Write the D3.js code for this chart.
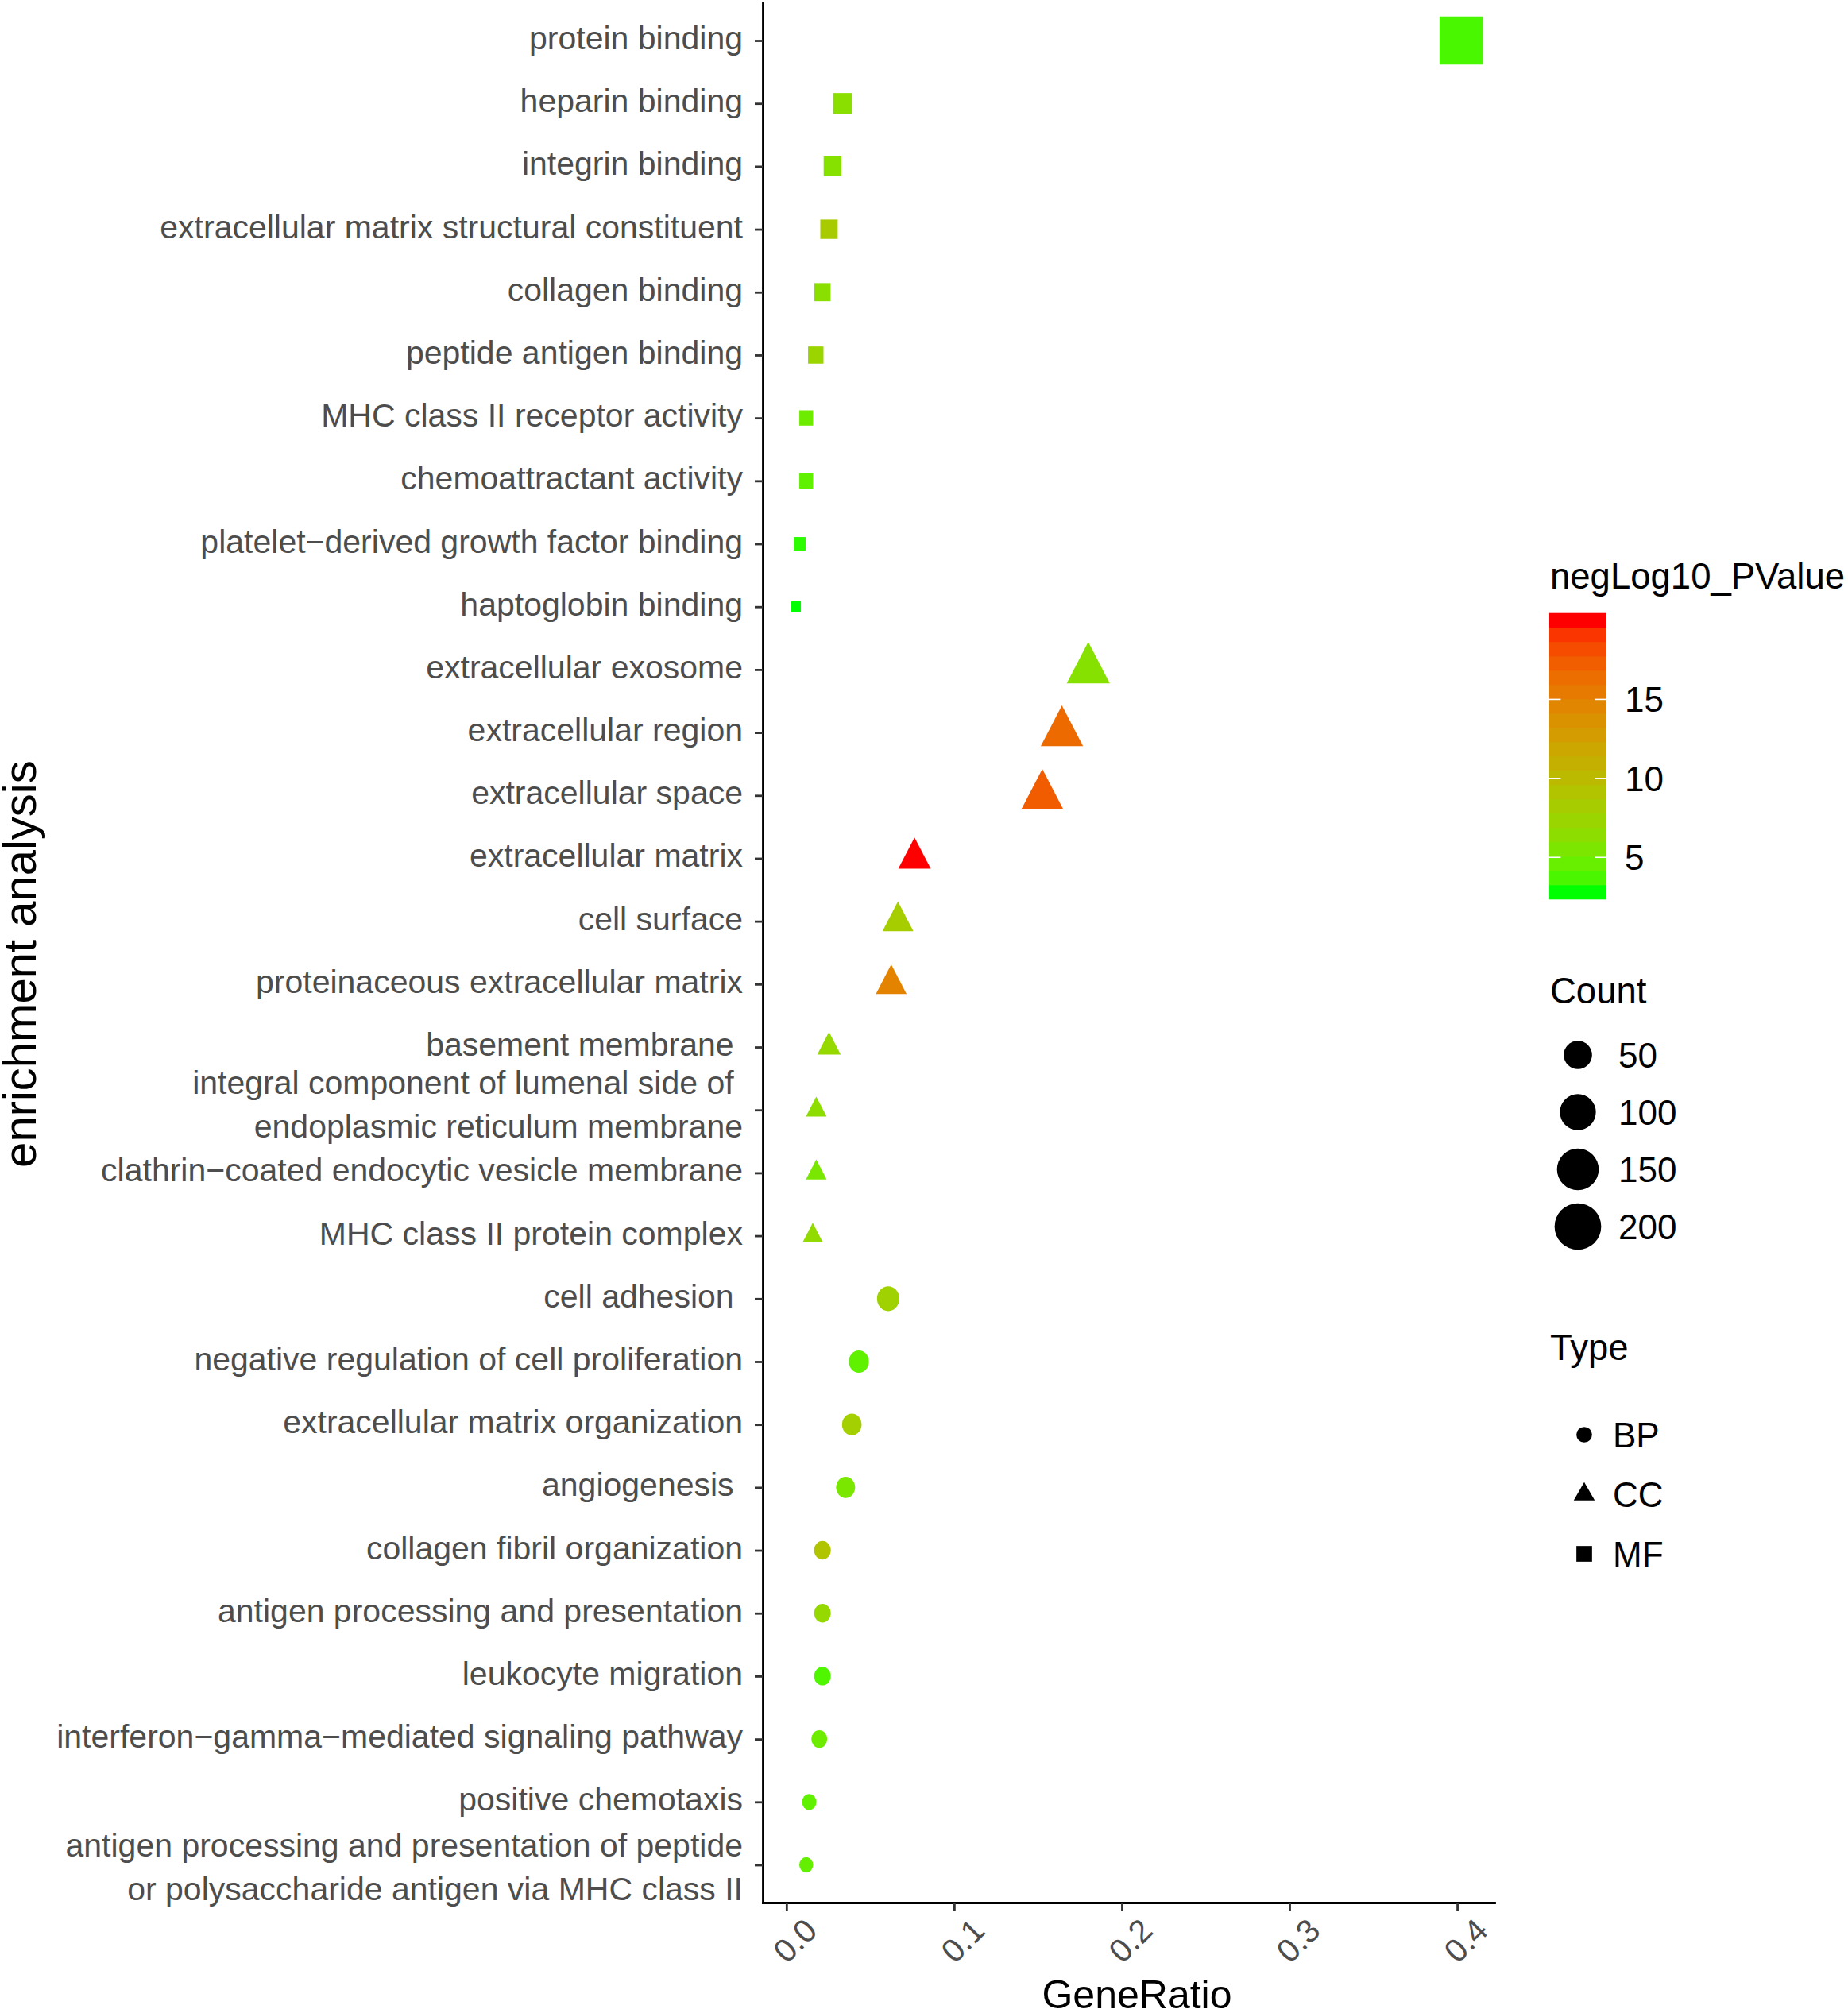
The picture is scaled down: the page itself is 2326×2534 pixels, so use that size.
<!DOCTYPE html>
<html>
<head>
<meta charset="utf-8">
<script src="https://cdn.jsdelivr.net/npm/d3@7"></script>
<style>
  body { margin: 0; background: #ffffff; }
  svg { display: block; font-family: "Liberation Sans", Arial, Helvetica, sans-serif; }
</style>
</head>
<body>
<svg id="chart" width="2326" height="2534"></svg>
<script>
// ---------------- data (top to bottom as drawn) ----------------
const terms = [
  "protein binding",
  "heparin binding",
  "integrin binding",
  "extracellular matrix structural constituent",
  "collagen binding",
  "peptide antigen binding",
  "MHC class II receptor activity",
  "chemoattractant activity",
  "platelet\u2212derived growth factor binding",
  "haptoglobin binding",
  "extracellular exosome",
  "extracellular region",
  "extracellular space",
  "extracellular matrix",
  "cell surface",
  "proteinaceous extracellular matrix",
  "basement membrane ",
  "integral component of lumenal side of \nendoplasmic reticulum membrane",
  "clathrin\u2212coated endocytic vesicle membrane",
  "MHC class II protein complex",
  "cell adhesion ",
  "negative regulation of cell proliferation",
  "extracellular matrix organization",
  "angiogenesis ",
  "collagen fibril organization",
  "antigen processing and presentation",
  "leukocyte migration",
  "interferon\u2212gamma\u2212mediated signaling pathway",
  "positive chemotaxis",
  "antigen processing and presentation of peptide\nor polysaccharide antigen via MHC class II"
];
const types = [
  "MF","MF","MF","MF","MF","MF","MF","MF","MF","MF",
  "CC","CC","CC","CC","CC","CC","CC","CC","CC","CC",
  "BP","BP","BP","BP","BP","BP","BP","BP","BP","BP"
];
const geneRatio = [
  0.4024, 0.0335, 0.0275, 0.0254, 0.0215, 0.0175, 0.0118, 0.0118, 0.0079, 0.0057,
  0.1800, 0.1643, 0.1526, 0.0764, 0.0665, 0.0625, 0.0254, 0.0178, 0.0178, 0.0157,
  0.0607, 0.0432, 0.0390, 0.0353, 0.0215, 0.0215, 0.0215, 0.0196, 0.0136, 0.0118
];
const counts = [
  217, 18, 15, 14, 11, 9, 6, 6, 4, 3,
  97, 92, 86, 42, 36, 35, 14, 9, 9, 8,
  33, 23, 21, 19, 12, 12, 12, 10, 7, 6
];
const negLog10 = [
  3.66, 6.24, 6.07, 8.30, 6.24, 7.27, 4.86, 4.35, 3.14, 2.80,
  6.07, 16.56, 17.42, 20.00, 8.13, 14.84, 6.93, 6.41, 5.38, 6.76,
  7.62, 4.35, 7.96, 5.38, 8.99, 6.93, 3.83, 4.86, 4.35, 4.52
];
const xTicks = [0.0, 0.1, 0.2, 0.3, 0.4];
const colorTicks = [5, 10, 15];
const countBreaks = [50, 100, 150, 200];
const typeLevels = ["BP", "CC", "MF"];

// ---------------- layout / style constants ----------------
const W = 2326, H = 2534;
const panel = { left: 960, right: 1881, top: 3.5, bottom: 2395 };
const FONT_TICK = 41, FONT_LEG = 44, FONT_LEG_TITLE = 45.5;
const TICK_GREY = "#4d4d4d";
const LABEL_X = 935;
// baseline offsets (relative to tick) for one- and two-line labels
const ONE_LINE = [11];
const TWO_LINE_DEFAULT = [-20, 34.6];
const TWO_LINE_OVERRIDE = { 29: [-10, 45] };

const svg = d3.select("#chart");
svg.append("rect").attr("width", W).attr("height", H).attr("fill", "#fff");

// ---------------- scales ----------------
const [gMin, gMax] = d3.extent(geneRatio);
const gPad = (gMax - gMin) * 0.05;
const x = d3.scaleLinear().domain([gMin - gPad, gMax + gPad]).range([panel.left, panel.right]);

const idx = d3.range(terms.length);
const y = d3.scalePoint().domain(idx).range([panel.top, panel.bottom]).padding(0.6);

const [vMin, vMax] = d3.extent(negLog10);
const color = d3.scaleLinear().domain([vMin, vMax]).range(["#00ff00", "#ff0000"]).interpolate(d3.interpolateLab);

const [cMin, cMax] = d3.extent(counts);
const sizeNorm = d3.scaleSqrt().domain([0, cMax - cMin]).range([0, 1]);
const diam = d3.scaleLinear().domain([0, 1]).range([13.75, 60.6]);
const dOf = c => diam(sizeNorm(Math.max(0, c - cMin)));

const symType = { BP: d3.symbolCircle, CC: d3.symbolTriangle, MF: d3.symbolSquare };
const areaOf = (t, d) => t === "MF" ? d * d : Math.PI * d * d / 4;
const symPath = (t, d) => d3.symbol().type(symType[t]).size(areaOf(t, d))();

// ---------------- axes ----------------
const yAxis = svg.append("g")
  .attr("transform", `translate(${panel.left},0)`)
  .call(d3.axisLeft(y).tickSize(10).tickSizeOuter(0).tickFormat(""));
const xAxis = svg.append("g")
  .attr("transform", `translate(0,${panel.bottom})`)
  .call(d3.axisBottom(x).tickValues(xTicks).tickSize(11).tickSizeOuter(0).tickFormat(""));
[yAxis, xAxis].forEach(g => {
  g.select(".domain").attr("stroke", "#000").attr("stroke-width", 2.8).attr("stroke-linecap", "square");
  g.selectAll(".tick line").attr("stroke", "#333333").attr("stroke-width", 2.8);
});

// y tick labels (possibly two-line)
const yLab = svg.append("g")
  .attr("font-size", FONT_TICK).attr("fill", TICK_GREY).attr("text-anchor", "end");
idx.forEach(i => {
  const lines = terms[i].split("\n");
  const t = yLab.append("text")
    .attr("xml:space", "preserve").style("white-space", "pre");
  const offs = lines.length === 1 ? ONE_LINE : (TWO_LINE_OVERRIDE[i] || TWO_LINE_DEFAULT);
  lines.forEach((ln, k) => {
    t.append("tspan").attr("x", LABEL_X).attr("y", y(i) + offs[k]).text(ln);
  });
});

// x tick labels, rotated 45 degrees
svg.append("g").attr("font-size", FONT_TICK).attr("fill", TICK_GREY)
  .selectAll("text").data(xTicks).join("text")
  .attr("transform", v => `translate(${x(v) + 11},2443) rotate(-45)`)
  .attr("text-anchor", "middle").attr("dominant-baseline", "central")
  .text(d3.format(".1f"));

// axis titles
svg.append("text").attr("x", 1431).attr("y", 2528).attr("text-anchor", "middle")
  .attr("font-size", 50).attr("fill", "#000").text("GeneRatio");
svg.append("text").attr("transform", "translate(45,1213.6) rotate(-90)").attr("text-anchor", "middle")
  .attr("font-size", 58).attr("fill", "#000").text("enrichment analysis");

// ---------------- points ----------------
svg.append("g").selectAll("path").data(idx).join("path")
  .attr("transform", i => `translate(${x(geneRatio[i])},${y(i)}) scale(0.9,1)`)
  .attr("d", i => symPath(types[i], dOf(counts[i])))
  .attr("fill", i => color(negLog10[i]));

// ---------------- legend: colorbar ----------------
const cb = { x: 1950, w: 72, top: 772, h: 360, nbin: 20 };
svg.append("text").attr("x", 1951).attr("y", 741).attr("font-size", FONT_LEG_TITLE).attr("fill", "#000")
  .text("negLog10_PValue");
const bins = d3.range(cb.nbin);
const binVal = d3.scaleLinear().domain([0, cb.nbin - 1]).range([vMin, vMax]);
svg.append("g").selectAll("rect").data(bins).join("rect")
  .attr("x", cb.x).attr("width", cb.w)
  .attr("y", b => cb.top + cb.h - (b + 1) * cb.h / cb.nbin - 0.3)
  .attr("height", cb.h / cb.nbin + 0.6)
  .attr("fill", b => color(binVal(b)));
const cbY = d3.scaleLinear().domain([vMin, vMax])
  .range([cb.top + cb.h - cb.h / (2 * cb.nbin), cb.top + cb.h / (2 * cb.nbin)]);
const cbt = svg.append("g");
colorTicks.forEach(v => {
  const yy = cbY(v);
  cbt.append("line").attr("x1", cb.x).attr("x2", cb.x + 14.4).attr("y1", yy).attr("y2", yy)
    .attr("stroke", "#fff").attr("stroke-width", 1.6);
  cbt.append("line").attr("x1", cb.x + cb.w - 14.4).attr("x2", cb.x + cb.w).attr("y1", yy).attr("y2", yy)
    .attr("stroke", "#fff").attr("stroke-width", 1.6);
  cbt.append("text").attr("x", 2045).attr("y", yy + 15.7).attr("font-size", FONT_LEG).attr("fill", "#000").text(v);
});

// ---------------- legend: Count ----------------
svg.append("text").attr("x", 1951).attr("y", 1263).attr("font-size", FONT_LEG_TITLE).attr("fill", "#000").text("Count");
const cl = svg.append("g");
countBreaks.forEach((c, k) => {
  const yy = 1328 + k * 72;
  cl.append("path").attr("transform", `translate(1986,${yy})`)
    .attr("d", symPath("BP", dOf(c))).attr("fill", "#000");
  cl.append("text").attr("x", 2037).attr("y", yy + 15.7).attr("font-size", FONT_LEG).attr("fill", "#000").text(c);
});

// ---------------- legend: Type ----------------
svg.append("text").attr("x", 1951).attr("y", 1712).attr("font-size", FONT_LEG_TITLE).attr("fill", "#000").text("Type");
const KEY_D = 19.7;
const tl = svg.append("g");
typeLevels.forEach((t, k) => {
  const yy = 1806 + k * 75;
  tl.append("path").attr("transform", `translate(1994,${yy})`)
    .attr("d", symPath(t, KEY_D)).attr("fill", "#000");
  tl.append("text").attr("x", 2030).attr("y", yy + 15.7).attr("font-size", FONT_LEG).attr("fill", "#000").text(t);
});
</script>
</body>
</html>
